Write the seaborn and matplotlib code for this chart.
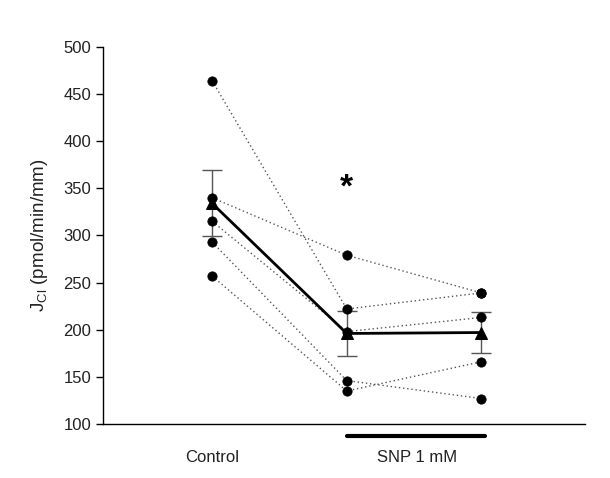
import pandas as pd
import seaborn as sns
import matplotlib.pyplot as plt

# Data (per-tissue J_Cl values)
conditions = ['Control', 'SNP 1 mM a', 'SNP 1 mM b']
subj1 = [464, 222, 239]
subj2 = [340, 279, 239]
subj3 = [315, 198, 213]
subj4 = [293, 146, 127]
subj5 = [257, 135, 166]
mean_vals = [334, 196, 197]
sem_vals = [35, 24, 22]

sns.set_style('white')
plt.rcParams['font.family'] = ['Liberation Sans', 'DejaVu Sans']
plt.rcParams['mathtext.fontset'] = 'custom'
plt.rcParams['mathtext.rm'] = 'Liberation Sans'
plt.rcParams['text.color'] = '#222222'
plt.rcParams['axes.labelcolor'] = '#222222'
plt.rcParams['ytick.color'] = '#222222'

rows = []
for name, vals in zip(['s1', 's2', 's3', 's4', 's5'], [subj1, subj2, subj3, subj4, subj5]):
    for i, v in enumerate(vals):
        rows.append({'subject': name, 'x': i, 'y': v})
df = pd.DataFrame(rows)
mean_df = pd.DataFrame({'x': range(len(mean_vals)), 'y': mean_vals, 'sem': sem_vals})

fig = plt.figure(figsize=(6.1, 4.78), dpi=100)
ax = fig.add_axes([0.169, 0.113, 0.790, 0.789])

# individual paired lines
sns.lineplot(data=df, x='x', y='y', units='subject', estimator=None, color='#555555',
             linestyle=(0, (1, 2)), linewidth=1, ax=ax, legend=False)
sns.scatterplot(data=df, x='x', y='y', color='black', s=45, edgecolor='black', ax=ax, zorder=4, legend=False)

# mean +/- SEM
ax.errorbar(mean_df['x'], mean_df['y'], yerr=mean_df['sem'], fmt='none', ecolor='#555555',
            elinewidth=1, capsize=7, capthick=1, zorder=3)
sns.lineplot(data=mean_df, x='x', y='y', color='black', linewidth=2, marker='^', markersize=8,
             markeredgecolor='black', ax=ax, zorder=5)

ax.set_xlim(-0.81, 2.77)
ax.set_ylim(100, 500)
ax.set_yticks(range(100, 501, 50))
ax.set_xticks([])
ax.set_xlabel('')
ax.set_ylabel(r'J$_{\mathrm{Cl}}$ (pmol/min/mm)', fontsize=13.5, labelpad=10)
ax.tick_params(axis='y', direction='out', length=5, width=1, color='black', labelsize=12, left=True)
for side in ['top', 'right']:
    ax.spines[side].set_visible(False)
for side in ['left', 'bottom']:
    ax.spines[side].set_color('black')
    ax.spines[side].set_linewidth(1)

# asterisk
ax.text(1, 350, '*', ha='center', va='center', fontsize=24, fontweight='bold', color='black')

# group labels and treatment bar
trans = ax.get_xaxis_transform()
ax.text(0, -0.09, 'Control', ha='center', va='center', fontsize=12, transform=trans)
ax.text(1.52, -0.09, 'SNP 1 mM', ha='center', va='center', fontsize=12, transform=trans)
ax.plot([1, 2.03], [-0.032, -0.032], color='black', linewidth=3, transform=trans, clip_on=False)

fig.savefig('out.png', dpi=100)
